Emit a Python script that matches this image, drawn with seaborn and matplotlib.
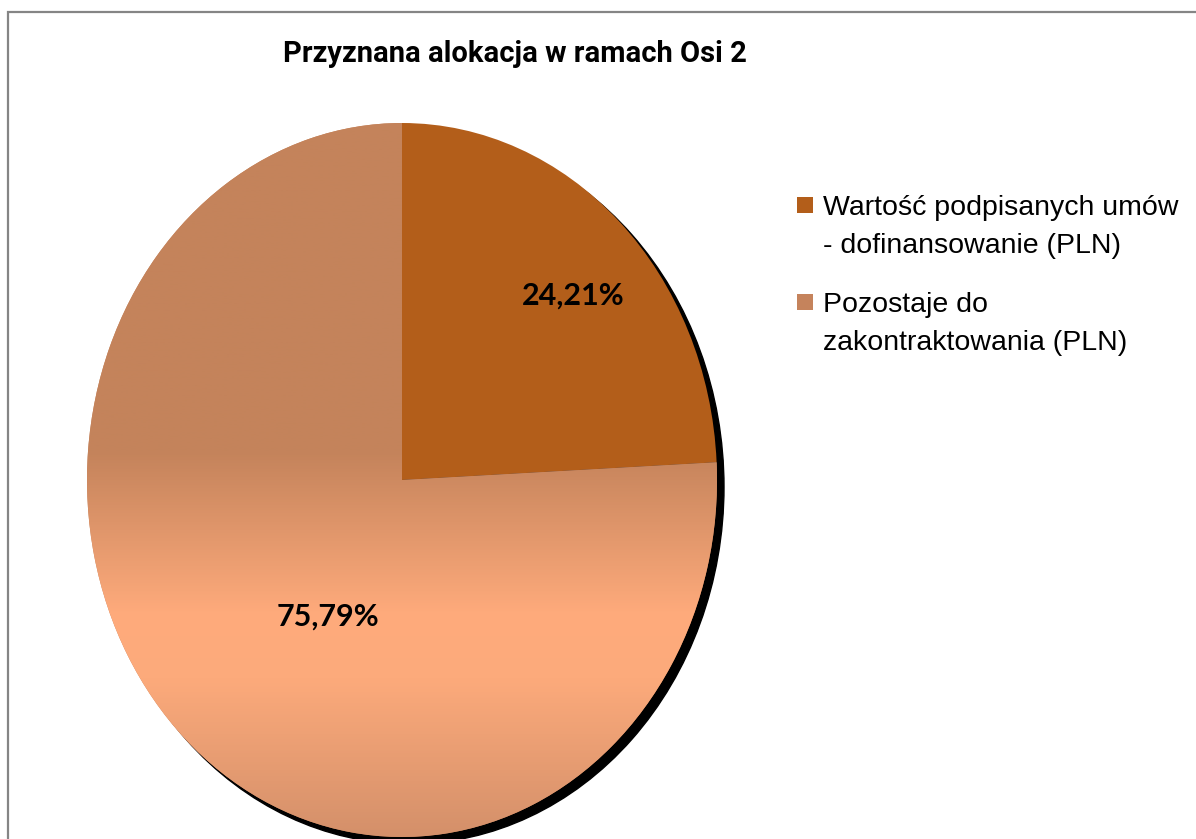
import matplotlib
matplotlib.use('Agg')
import matplotlib.pyplot as plt
import numpy as np
import seaborn as sns
from matplotlib.colors import LinearSegmentedColormap
from matplotlib.patches import Ellipse, Rectangle

sns.set_theme(style="white")
plt.rcParams['font.family'] = ['Liberation Sans', 'DejaVu Sans']
plt.rcParams['text.color'] = 'black'

title = 'Przyznana alokacja w ramach Osi 2'
labels = ['Wartość podpisanych umów\n- dofinansowanie (PLN)',
          'Pozostaje do\nzakontraktowania (PLN)']
shares = [24.21, 75.79]
colors = ['#b35e1a', '#c5835c']

W, H = 1196, 839
fig = plt.figure(figsize=(W / 100, H / 100), dpi=100)
fig.patch.set_facecolor('white')

# outer chart frame (cut off on right and bottom like the original)
fig.add_artist(Rectangle((8 / W, -0.1), 1.2, 1.1 - 12 / H, transform=fig.transFigure,
                         fill=False, edgecolor='#858585', lw=1.6))

# pie is an ellipse in the original -> stretched axes
cx, cy, rx, ry = 402, 480, 315, 357
ax = fig.add_axes([(cx - rx) / W, (H - cy - ry) / H, 2 * rx / W, 2 * ry / H])

# shadow
ax.add_patch(Ellipse((7 / rx, -7 / ry), 2, 2, color='black', zorder=0, clip_on=False))

wedges, _ = ax.pie(shares, colors=colors, startangle=90, counterclock=False,
                   radius=1, wedgeprops=dict(linewidth=0))

# vertical gradient for the big slice
grad = LinearSegmentedColormap.from_list('g', [(0, '#d4906a'), (0.22, '#fcaa7b'),
                                               (0.31, '#ffab7c'), (0.54, '#c4835b'),
                                               (1, '#c4835b')])
img = ax.imshow(np.linspace(0, 1, 512).reshape(-1, 1), cmap=grad, origin='lower',
                extent=[-1, 1, -1, 1], aspect='auto', zorder=1.5)
img.set_clip_path(wedges[1])
wedges[1].set_zorder(1)

ax.set_aspect('auto')
ax.set_xlim(-1, 1)
ax.set_ylim(-1, 1)
ax.axis('off')

# percentage labels
dist = [0.75, 0.45]
shift = [-3, 12]
for w, v, d, s in zip(wedges, shares, dist, shift):
    ang = np.deg2rad((w.theta1 + w.theta2) / 2 + s)
    ax.text(d * np.cos(ang), d * np.sin(ang), f'{v:.2f}%'.replace('.', ','),
            ha='center', va='center', fontsize=22, fontweight='bold',
            family=['Lato', 'DejaVu Sans'], color='black', zorder=5)

fig.text(515 / W, 1 - 54 / H, title, ha='center', va='center', fontsize=21,
         fontweight='bold', family=['Roboto', 'Liberation Sans'], color='black')

# legend
for i, (lab, col) in enumerate(zip(labels, colors)):
    base = 215 + i * 97
    fig.add_artist(Rectangle((797 / W, 1 - (base - 2) / H), 16 / W, 16 / H,
                             transform=fig.transFigure, facecolor=col, edgecolor='none'))
    for j, line in enumerate(lab.split('\n')):
        fig.text(823 / W, 1 - (base + 38 * j) / H, line, ha='left', va='baseline',
                 fontsize=20.5, color='black')

fig.savefig('out.png', dpi=100)
